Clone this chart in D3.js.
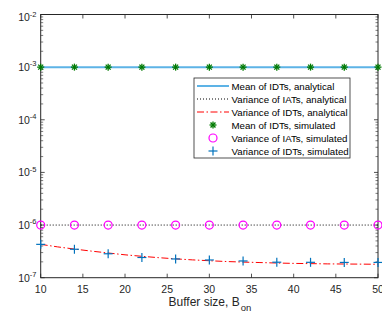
<!DOCTYPE html>
<html><head><meta charset="utf-8">
<script src="https://cdn.jsdelivr.net/npm/d3@7"></script>
<style>body{margin:0;background:#fff}svg{display:block}text{font-family:"Liberation Sans",Arial,sans-serif}</style>
</head><body><svg id="c" width="382" height="314"></svg>
<script>
const xTicks = [10,15,20,25,30,35,40,45,50];
const yExps = [-7,-6,-5,-4,-3,-2];
const analyticX = [10,12,14,16,18,20,22,24,26,28,30,32,34,36,38,40,42,44,46,48,50];
const meanAnalytic = [1e-3,1e-3,1e-3,1e-3,1e-3,1e-3,1e-3,1e-3,1e-3,1e-3,1e-3,1e-3,1e-3,1e-3,1e-3,1e-3,1e-3,1e-3,1e-3,1e-3,1e-3];
const varIATAnalytic = [1e-6,1e-6,1e-6,1e-6,1e-6,1e-6,1e-6,1e-6,1e-6,1e-6,1e-6,1e-6,1e-6,1e-6,1e-6,1e-6,1e-6,1e-6,1e-6,1e-6,1e-6];
const varIDTAnalytic = [4.3e-7,3.85e-7,3.5e-7,3.2e-7,2.95e-7,2.72e-7,2.55e-7,2.4e-7,2.28e-7,2.18e-7,2.1e-7,2.03e-7,1.98e-7,1.94e-7,1.9e-7,1.87e-7,1.85e-7,1.83e-7,1.82e-7,1.81e-7,1.8e-7];
const simX = [10,14,18,22,26,30,34,38,42,46,50];
const meanSim = [1e-3,1e-3,1e-3,1e-3,1e-3,1e-3,1e-3,1e-3,1e-3,1e-3,1e-3];
const varIATSim = [1e-6,1e-6,1e-6,1e-6,1e-6,1e-6,1e-6,1e-6,1e-6,1e-6,1e-6];
const varIDTSim = [4.3e-7,3.47e-7,2.85e-7,2.42e-7,2.27e-7,2.17e-7,2.08e-7,1.97e-7,1.96e-7,1.95e-7,1.95e-7];
const legendLabels = ["Mean of IDTs, analytical","Variance of IATs, analytical","Variance of IDTs, analytical","Mean of IDTs, simulated","Variance of IATs, simulated","Variance of IDTs, simulated"];

const svg = d3.select("#c");
const L=40.7,R=378,T=14.5,B=277.7;
const x = d3.scaleLinear().domain([10,50]).range([L,R]);
const y = d3.scaleLog().domain([1e-7,1e-2]).range([B,T]);
const C = {mean:"#5DB3E6",iat:"#000",idt:"#FF0000",meanSim:"#007A00",iatSim:"#FF00FF",idtSim:"#0072BD"};
const dashDot = "7,2.5,1.5,2.5";

const minors=[];
for(let e=-7;e<-2;e++) for(let k=2;k<=9;k++) minors.push(k*Math.pow(10,e));
const g = svg.append("g");
minors.forEach(v=>{
  g.append("line").attr("x1",L).attr("x2",L+2.5).attr("y1",y(v)).attr("y2",y(v)).attr("stroke","#262626").attr("stroke-width",0.6);
  g.append("line").attr("x1",R).attr("x2",R-2.5).attr("y1",y(v)).attr("y2",y(v)).attr("stroke","#262626").attr("stroke-width",0.6);
});
yExps.forEach(e=>{
  const v=Math.pow(10,e);
  g.append("line").attr("x1",L).attr("x2",L+4).attr("y1",y(v)).attr("y2",y(v)).attr("stroke","#262626").attr("stroke-width",0.8);
  g.append("line").attr("x1",R).attr("x2",R-4).attr("y1",y(v)).attr("y2",y(v)).attr("stroke","#262626").attr("stroke-width",0.8);
  const off = e===-2 ? 3 : 0;
  const t=g.append("text").attr("x",36.5).attr("y",y(v)+3.8+off).attr("text-anchor","end").attr("font-size",10.5).attr("fill","#262626");
  t.append("tspan").text("10");
  t.append("tspan").attr("dy",-4.5).attr("font-size",7.5).text(String(e));
});
xTicks.forEach(v=>{
  g.append("line").attr("x1",x(v)).attr("x2",x(v)).attr("y1",B).attr("y2",B-4).attr("stroke","#262626").attr("stroke-width",0.8);
  g.append("line").attr("x1",x(v)).attr("x2",x(v)).attr("y1",T).attr("y2",T+4).attr("stroke","#262626").attr("stroke-width",0.8);
  g.append("text").attr("x",x(v)).attr("y",292.7).attr("text-anchor","middle").attr("font-size",10.5).attr("fill","#262626").text(v);
});
svg.append("rect").attr("x",L).attr("y",T).attr("width",R-L).attr("height",B-T).attr("fill","none").attr("stroke","#262626").attr("stroke-width",1);

const xl = svg.append("text").attr("x",168.5).attr("y",305.5).attr("font-size",12).attr("fill","#262626");
xl.append("tspan").text("Buffer size, B");
xl.append("tspan").attr("dy",5).attr("dx",1).attr("font-size",9.5).text("on");

const line = arr => d3.line().x((d,i)=>x(analyticX[i])).y(d=>y(d))(arr);
svg.append("path").attr("d",line(meanAnalytic)).attr("fill","none").attr("stroke",C.mean).attr("stroke-width",2);
svg.append("path").attr("d",line(varIATAnalytic)).attr("fill","none").attr("stroke",C.iat).attr("stroke-width",1).attr("stroke-dasharray","1,2");
svg.append("path").attr("d",line(varIDTAnalytic)).attr("fill","none").attr("stroke",C.idt).attr("stroke-width",1).attr("stroke-dasharray",dashDot);

function star(sel,cx,cy){
  const r=3.5;
  for(let a=0;a<4;a++){const th=a*Math.PI/4;
    sel.append("line").attr("x1",cx-r*Math.cos(th)).attr("x2",cx+r*Math.cos(th)).attr("y1",cy-r*Math.sin(th)).attr("y2",cy+r*Math.sin(th)).attr("stroke",C.meanSim).attr("stroke-width",1.3);}
}
function plus(sel,cx,cy){
  const r=4.5;
  sel.append("line").attr("x1",cx-r).attr("x2",cx+r).attr("y1",cy).attr("y2",cy).attr("stroke",C.idtSim).attr("stroke-width",1.2);
  sel.append("line").attr("x1",cx).attr("x2",cx).attr("y1",cy-r).attr("y2",cy+r).attr("stroke",C.idtSim).attr("stroke-width",1.2);
}
const m=svg.append("g");
simX.forEach((v,i)=>star(m,x(v),y(meanSim[i])));
simX.forEach((v,i)=>m.append("circle").attr("cx",x(v)).attr("cy",y(varIATSim[i])).attr("r",4).attr("fill","none").attr("stroke",C.iatSim).attr("stroke-width",1.2));
simX.forEach((v,i)=>plus(m,x(v),y(varIDTSim[i])));

const lg=svg.append("g");
lg.append("rect").attr("x",194).attr("y",78).attr("width",156).attr("height",80).attr("fill","#fff").attr("stroke","#262626").attr("stroke-width",0.8);
const rows=[86,99,112,125,138,151];
legendLabels.forEach((lab,i)=>{
  const yy=rows[i];
  if(i===0) lg.append("line").attr("x1",197).attr("x2",229).attr("y1",yy).attr("y2",yy).attr("stroke",C.mean).attr("stroke-width",2);
  if(i===1) lg.append("line").attr("x1",197).attr("x2",229).attr("y1",yy).attr("y2",yy).attr("stroke",C.iat).attr("stroke-width",1).attr("stroke-dasharray","1,2");
  if(i===2) lg.append("line").attr("x1",197).attr("x2",229).attr("y1",yy).attr("y2",yy).attr("stroke",C.idt).attr("stroke-width",1).attr("stroke-dasharray",dashDot);
  if(i===3) star(lg,213,yy);
  if(i===4) lg.append("circle").attr("cx",213).attr("cy",yy).attr("r",4).attr("fill","none").attr("stroke",C.iatSim).attr("stroke-width",1.2);
  if(i===5) plus(lg,213,yy);
  lg.append("text").attr("x",231.5).attr("y",yy+3.5).attr("font-size",9.7).attr("fill","#000").text(lab);
});
</script></body></html>
